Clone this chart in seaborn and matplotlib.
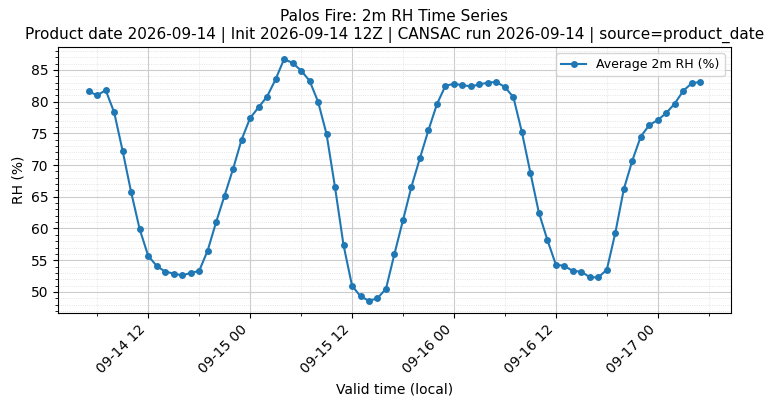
import pandas as pd
import matplotlib
matplotlib.use("Agg")
import matplotlib.pyplot as plt
import matplotlib.dates as mdates
from matplotlib.ticker import MultipleLocator
import seaborn as sns

# ---------------- DATA ----------------
start_time = "2026-09-14 05:00"
rh_values = [
    81.6, 81.0, 81.8, 78.3, 72.2, 65.7, 59.9, 55.7, 54.1, 53.2, 52.9, 52.6,
    53.0, 53.3, 56.5, 61.0, 65.2, 69.4, 74.0, 77.4, 79.1, 80.8, 83.5, 86.7,
    86.1, 84.9, 83.3, 80.0, 74.9, 66.5, 57.4, 51.0, 49.3, 48.6, 49.0, 50.5,
    56.0, 61.3, 66.6, 71.1, 75.5, 79.6, 82.5, 82.8, 82.6, 82.4, 82.7, 83.0,
    83.1, 82.3, 80.7, 75.2, 68.8, 62.5, 58.2, 54.3, 54.1, 53.3, 53.2, 52.3,
    52.3, 53.5, 59.3, 66.2, 70.7, 74.5, 76.3, 77.1, 78.2, 79.7, 81.7, 82.9, 83.1,
]
times = pd.date_range(start_time, periods=len(rh_values), freq="h")
df = pd.DataFrame({"time": times, "rh": rh_values})

# ---------------- PLOT ----------------
fig, ax = plt.subplots(figsize=(7.75, 4.09), dpi=100)
sns.lineplot(data=df, x="time", y="rh", marker="o", markersize=5,
             markeredgewidth=0, color="#1f77b4", linewidth=1.5,
             label="Average 2m RH (%)", ax=ax)

ax.xaxis.set_major_locator(mdates.HourLocator(byhour=[0, 12]))
ax.xaxis.set_minor_locator(mdates.HourLocator(byhour=[6, 18]))
ax.xaxis.set_major_formatter(mdates.DateFormatter("%m-%d %H"))
ax.yaxis.set_major_locator(MultipleLocator(5))
ax.yaxis.set_minor_locator(MultipleLocator(1))
ax.grid(which="major", color="#cccccc", linewidth=0.8)
ax.grid(which="minor", color="#dddddd", linestyle=":", linewidth=0.6)
plt.setp(ax.get_xticklabels(), rotation=45, ha="right")

ax.set_xlabel("Valid time (local)")
ax.set_ylabel("RH (%)")
ax.set_title("Palos Fire: 2m RH Time Series\n"
             "Product date 2026-09-14 | Init 2026-09-14 12Z | CANSAC run 2026-09-14 | source=product_date",
             fontsize=11)
ax.legend(loc="upper right", fontsize=9)

fig.subplots_adjust(left=0.075, right=0.943, top=0.885, bottom=0.235)
fig.savefig("out.png")
